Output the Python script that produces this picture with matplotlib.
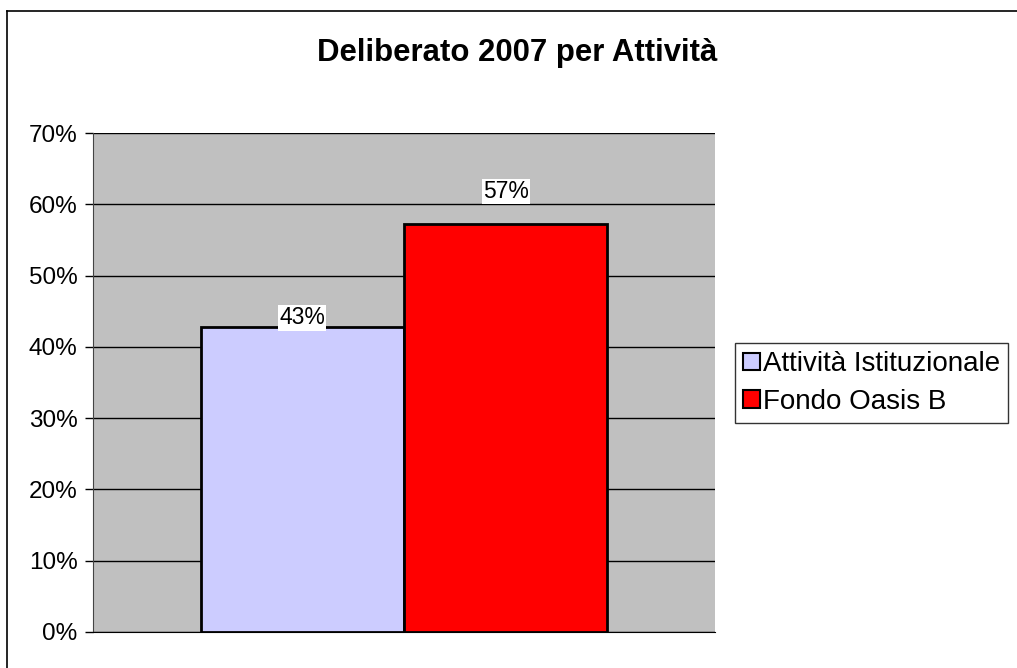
import numpy as np
import matplotlib.pyplot as plt
from matplotlib.lines import Line2D
from matplotlib.ticker import FuncFormatter

plt.rcParams['font.family'] = ['Liberation Sans', 'DejaVu Sans']

title = 'Deliberato 2007 per Attività'
series = ['Attività Istituzionale', 'Fondo Oasis B']
values = [0.428, 0.572]
labels = ['43%', '57%']
colors = ['#CCCCFF', '#FF0000']
label_offsets = [9, 33]  # px above bar top, as in the original

fig = plt.figure(figsize=(10.17, 6.68), dpi=100)
# outer chart border (top and left visible)
fig.add_artist(Line2D([7/1017, 7/1017], [0, 1 - 11/668], color='black', lw=1.2))
fig.add_artist(Line2D([7/1017, 1], [1 - 11/668, 1 - 11/668], color='black', lw=1.2))

ax = fig.add_axes([93/1017, 36/668, 622/1017, 499/668])
ax.set_facecolor('#C0C0C0')

w = 0.327
xs = [0.5 - w/2, 0.5 + w/2]
for x, v, c, lab, s, off in zip(xs, values, colors, labels, series, label_offsets):
    ax.bar(x, v, width=w, color=c, edgecolor='black', linewidth=2, label=s, zorder=3)
    ax.annotate(lab, (x, v), xytext=(0, off), textcoords='offset pixels',
                ha='center', va='center', fontsize=16.5, zorder=4,
                bbox=dict(boxstyle='square,pad=0.05', fc='white', ec='none'))

ax.set_xlim(0, 1)
ax.set_ylim(0, 0.7)
ax.set_yticks(np.arange(0, 0.71, 0.1))
ax.yaxis.set_major_formatter(FuncFormatter(lambda v, p: '%d%%' % round(v * 100)))
ax.tick_params(axis='y', labelsize=17.5, length=6, width=1, pad=5)
ax.set_xticks([])
ax.grid(axis='y', color='black', lw=1, zorder=1)
for sp in ['top', 'right']:
    ax.spines[sp].set_visible(False)
ax.spines['left'].set_color('#444444')
ax.spines['bottom'].set_color('black')

fig.text(0.509, 1 - 53/668, title, ha='center', va='center', fontsize=22.4, fontweight='bold')

leg = fig.legend(loc='center left', bbox_to_anchor=(735/1017, 1 - 383/668), fontsize=20,
                 frameon=True, fancybox=False, shadow=False, handlelength=0.6, handleheight=0.6,
                 handletextpad=0.1, borderpad=0.3, labelspacing=0.4, borderaxespad=0)
leg.get_frame().set_edgecolor('black')
leg.get_frame().set_linewidth(1)
for h in leg.legend_handles:
    h.set_linewidth(1.5)

fig.savefig('out.png', dpi=100)
